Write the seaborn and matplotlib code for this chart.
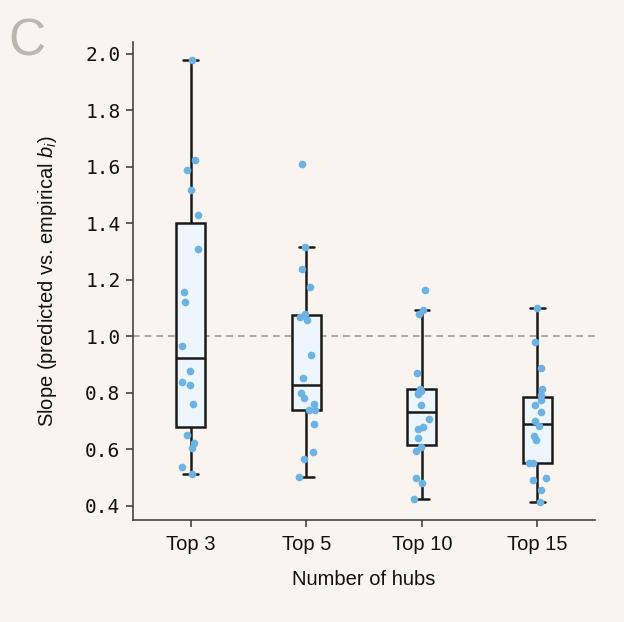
import numpy as np
import pandas as pd
import matplotlib
matplotlib.use("Agg")
import matplotlib.pyplot as plt
import seaborn as sns

# ---- data ----
groups = ["Top 3", "Top 5", "Top 10", "Top 15"]
top3 = [1.978, 1.625, 1.588, 1.516, 1.43, 1.31, 1.158, 1.12, 0.966,
        0.878, 0.839, 0.828, 0.761, 0.652, 0.623, 0.603, 0.537, 0.514]
top5 = [1.61, 1.317, 1.239, 1.176, 1.078, 1.068, 1.059, 0.935, 0.852,
        0.80, 0.781, 0.762, 0.739, 0.739, 0.688, 0.589, 0.566, 0.501]
top10 = [1.162, 1.092, 1.08, 0.871, 0.814, 0.807, 0.80, 0.795, 0.756,
         0.707, 0.678, 0.671, 0.64, 0.609, 0.595, 0.498, 0.482, 0.425]
top15 = [1.101, 0.981, 0.886, 0.814, 0.791, 0.774, 0.758, 0.731, 0.699,
         0.682, 0.647, 0.633, 0.553, 0.553, 0.50, 0.492, 0.456, 0.412]
yticks = [0.4, 0.6, 0.8, 1.0, 1.2, 1.4, 1.6, 1.8, 2.0]
panel_label = "C"

df = pd.DataFrame({
    "group": sum([[g] * len(v) for g, v in zip(groups, [top3, top5, top10, top15])], []),
    "slope": top3 + top5 + top10 + top15,
})

# ---- style ----
bg = "#f9f4f0"
txt = "#111111"
sns.set_style("ticks")
plt.rcParams["font.family"] = ["Liberation Sans", "DejaVu Sans"]
plt.rcParams["mathtext.fontset"] = "custom"
plt.rcParams["mathtext.it"] = "Liberation Sans:italic"
plt.rcParams["mathtext.rm"] = "Liberation Sans"
plt.rcParams["text.color"] = txt
plt.rcParams["axes.labelcolor"] = txt
plt.rcParams["xtick.color"] = "#444444"
plt.rcParams["ytick.color"] = "#444444"
plt.rcParams["xtick.labelcolor"] = txt
plt.rcParams["ytick.labelcolor"] = txt

fig = plt.figure(figsize=(6.24, 6.22), dpi=100, facecolor=bg)
ax = fig.add_axes([0.213, 0.164, 0.741, 0.768])
ax.set_facecolor(bg)

np.random.seed(3)
sns.boxplot(data=df, x="group", y="slope", order=groups, ax=ax,
            width=0.25, showfliers=False, color="#eef6fd", saturation=1,
            linecolor="#1a1a1a", linewidth=1.8, zorder=2)
sns.stripplot(data=df, x="group", y="slope", order=groups, ax=ax,
              jitter=0.08, size=5.5, color="#6cb2e2", linewidth=0, zorder=3)

ax.axhline(1.0, color="#9a9a9a", linestyle=(0, (4, 3)), linewidth=1.2, zorder=1)

ax.set_xlim(-0.5, 3.5)
ax.set_ylim(0.35, 2.04)
ax.set_yticks(yticks)
ax.set_yticklabels([f"{t:.1f}" for t in yticks], family="DejaVu Sans Mono", fontsize=14)
ax.tick_params(axis="x", length=5, width=1.2, pad=6)
ax.tick_params(axis="y", length=5, width=1.2, pad=4)
for lab in ax.get_xticklabels():
    lab.set_fontsize(14.5)

sns.despine(ax=ax)
for s in ["left", "bottom"]:
    ax.spines[s].set_color("#444444")
    ax.spines[s].set_linewidth(1.2)

ax.set_xlabel("Number of hubs", fontsize=14.5, labelpad=11)
ax.set_ylabel(r"Slope (predicted vs. empirical $b_i$)", fontsize=14.5, labelpad=19)

fig.text(0.013, 0.972, panel_label, fontsize=37, color="#bdb6af",
         fontweight="light", va="top", ha="left")

fig.savefig("out.png", dpi=100, facecolor=bg)
